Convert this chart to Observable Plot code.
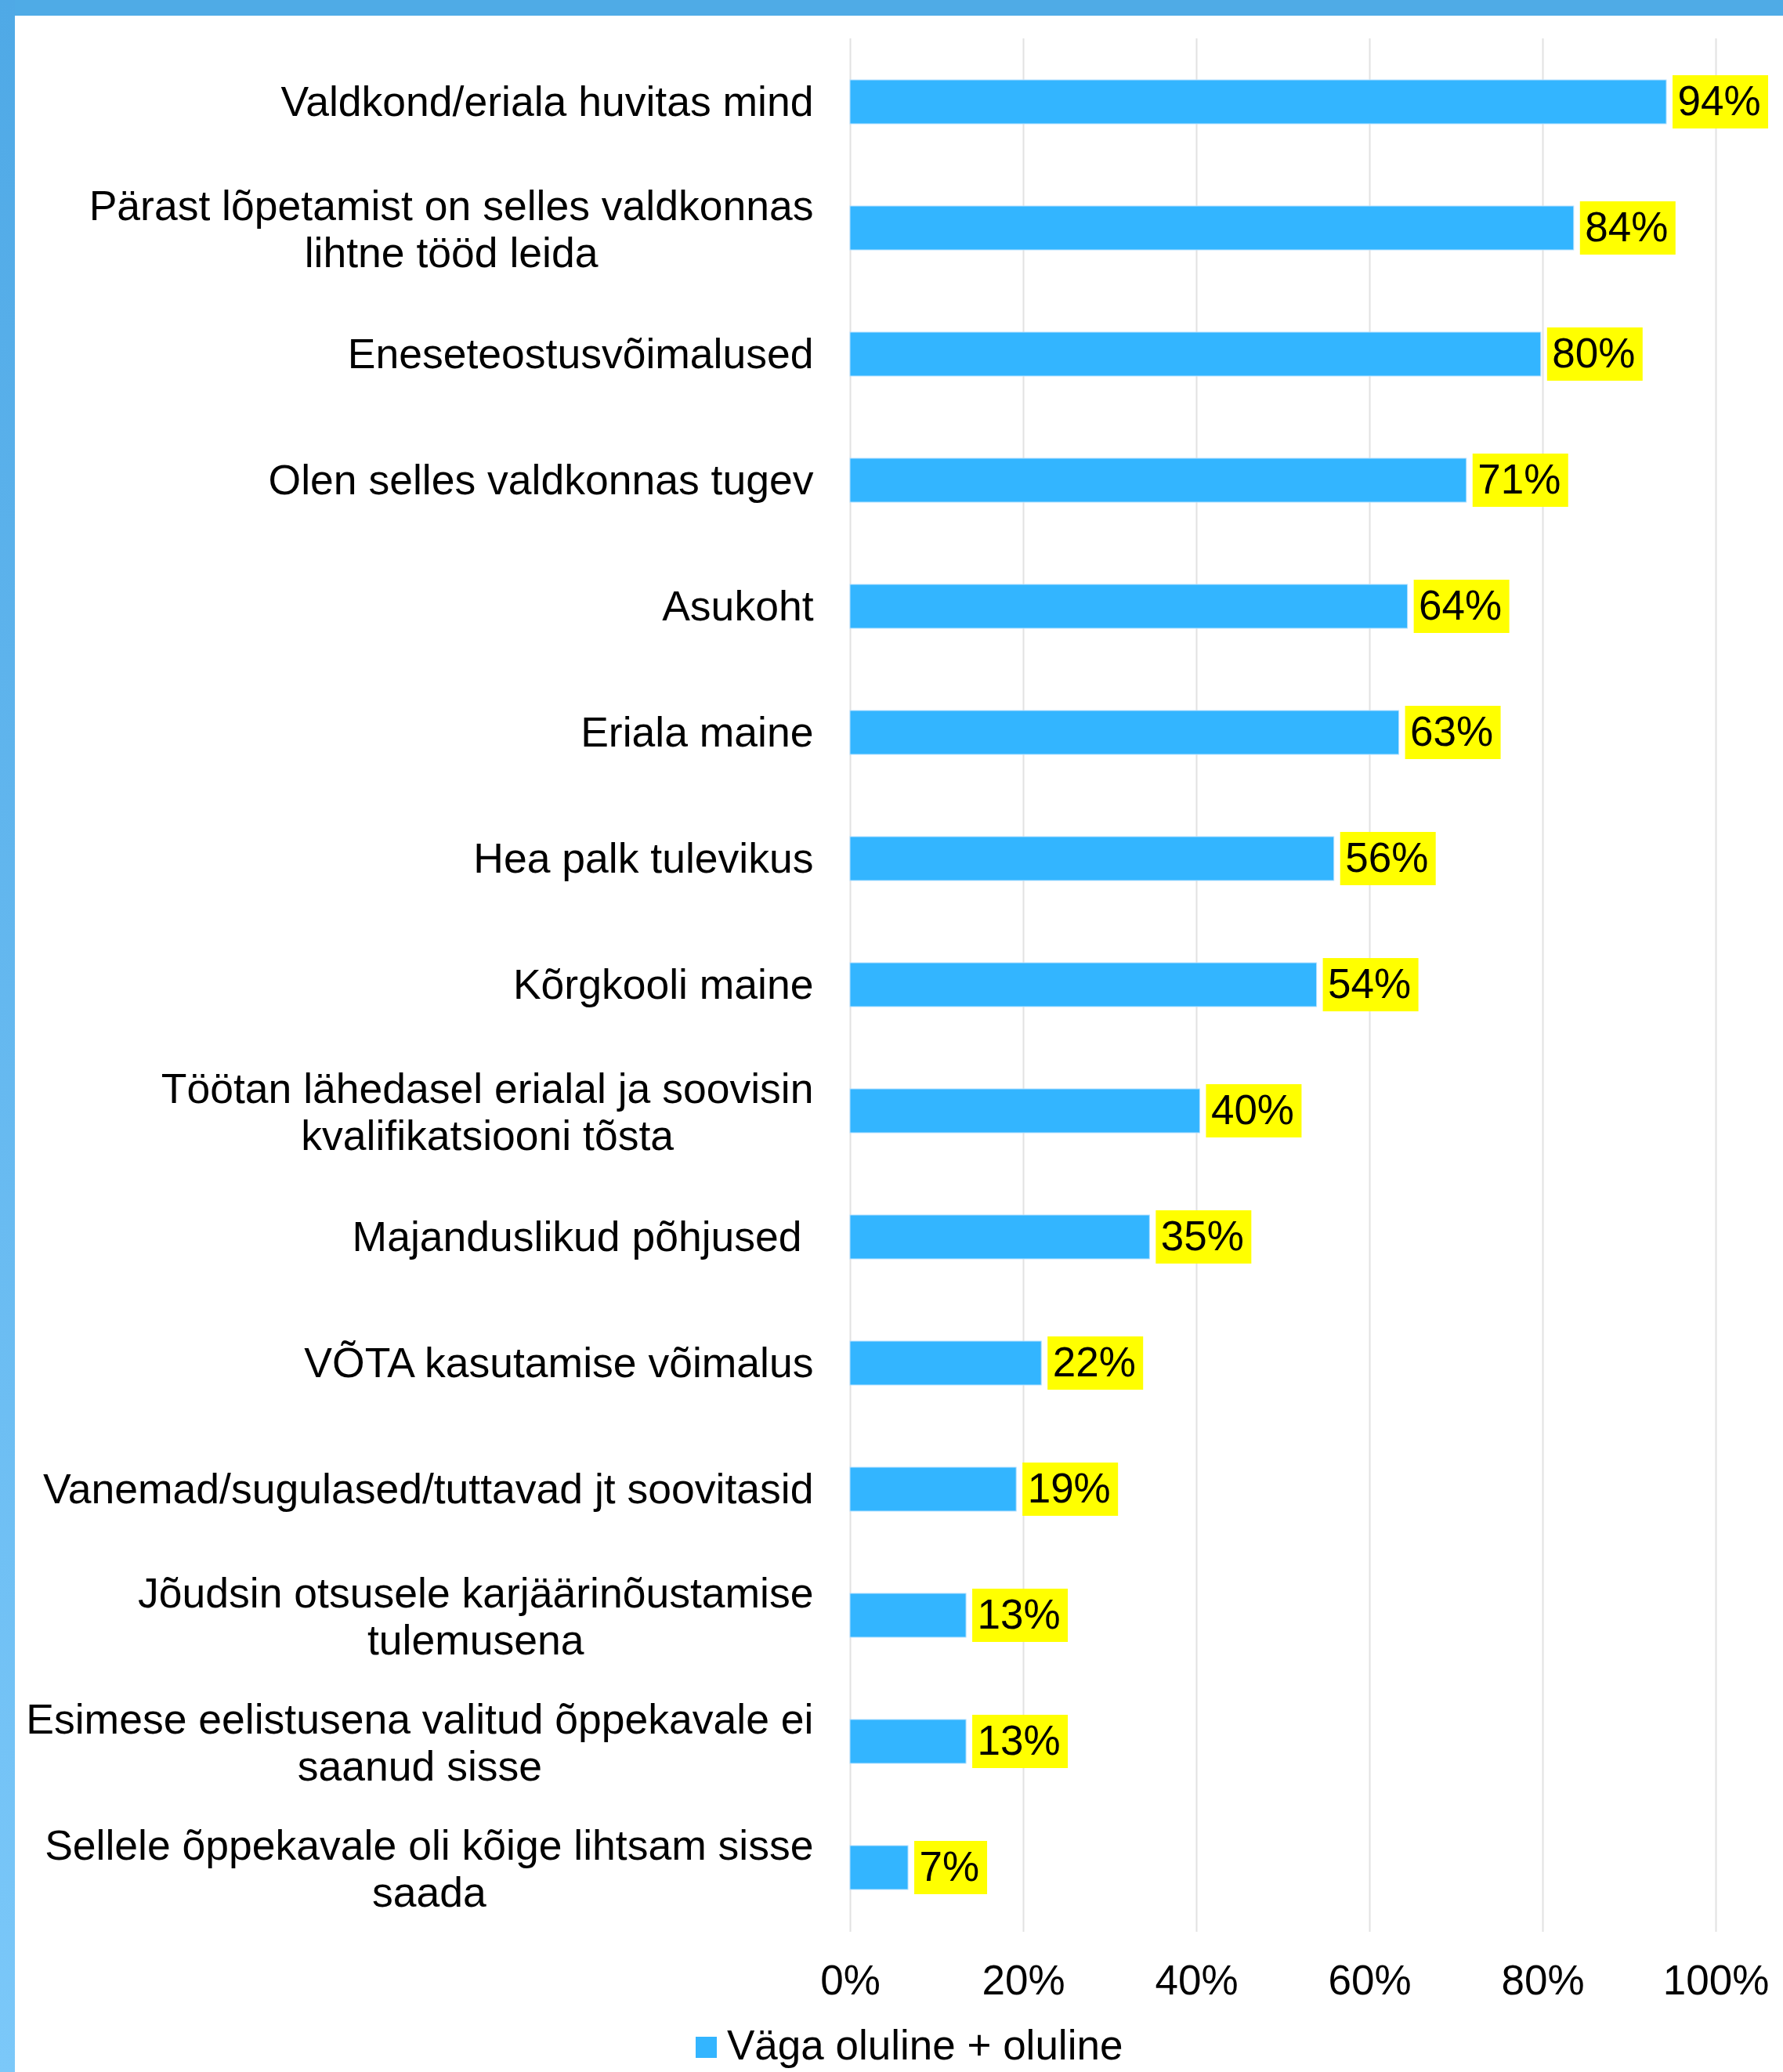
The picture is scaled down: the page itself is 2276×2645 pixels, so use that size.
<!DOCTYPE html>
<html>
<head>
<meta charset="utf-8">
<script src="https://cdn.jsdelivr.net/npm/d3@7"></script>
<script src="https://cdn.jsdelivr.net/npm/@observablehq/plot@0.6"></script>
<style>
  html, body { margin: 0; padding: 0; background: #fff; overflow: hidden; }
  #page { position: relative; width: 2276px; height: 2645px; background: #fff;
          font-family: "Liberation Sans", Arial, sans-serif; }
  #topbar { position: absolute; left: 0; top: 0; width: 2276px; height: 20px; background: #4fabe6; z-index: 3; }
  #leftbar { position: absolute; left: 0; top: 0; width: 19px; height: 2645px;
             background: linear-gradient(#4fa9e6, #7bc8f9); z-index: 3; }
  #chart { position: absolute; left: 0; top: 0; }
  #chart text { white-space: pre; }
  #legend { position: absolute; left: 888px; top: 2584px; height: 53px; width: 700px;
            font-size: 53px; line-height: 53px; color: #000; white-space: nowrap; }
  #legend .sw { position: absolute; left: 0; top: 16px; width: 27px; height: 27px; background: #33b5ff; }
  #legend .lb { position: absolute; left: 40px; top: 0; }
</style>
</head>
<body>
<div id="page">
  <div id="chart"></div>
  <div id="legend"><span class="sw"></span><span class="lb"></span></div>
  <div id="topbar"></div>
  <div id="leftbar"></div>
</div>
<script>
// ---- data ----
const categories = [
  "Valdkond/eriala huvitas mind",
  "Pärast lõpetamist on selles valdkonnas\nlihtne tööd leida",
  "Eneseteostusvõimalused",
  "Olen selles valdkonnas tugev",
  "Asukoht",
  "Eriala maine",
  "Hea palk tulevikus",
  "Kõrgkooli maine",
  "Töötan lähedasel erialal ja soovisin\nkvalifikatsiooni tõsta",
  "Majanduslikud põhjused ",
  "VÕTA kasutamise võimalus",
  "Vanemad/sugulased/tuttavad jt soovitasid",
  "Jõudsin otsusele karjäärinõustamise\ntulemusena",
  "Esimese eelistusena valitud õppekavale ei\nsaanud sisse",
  "Sellele õppekavale oli kõige lihtsam sisse\nsaada"
];
const values = [94.3, 83.6, 79.8, 71.2, 64.4, 63.4, 55.9, 53.9, 40.4, 34.6, 22.1, 19.2, 13.4, 13.4, 6.7];
const xTicks = [0, 20, 40, 60, 80, 100];
const seriesName = "Väga oluline + oluline";

// ---- styling ----
const FONT_SIZE = 53;
const LABEL_FONT_SIZE = 53.5;
const FONT_FAMILY = "'Liberation Sans', Arial, sans-serif";
const BAR_COLOR = "#33b5ff";

const rows = categories.map((c, i) => ({
  category: c,
  value: values[i],
  label: Math.round(values[i]) + "%"
}));

const ctx = document.createElement("canvas").getContext("2d");
const tw = (s, size = FONT_SIZE) => { ctx.font = `${size}px "Liberation Sans"`; return ctx.measureText(s).width; };

// yellow label boxes, grouped by label text width
const widthGroups = d3.group(rows, (d) => Math.round(tw(d.label)));
const boxMarks = Array.from(widthGroups, ([w, data]) =>
  Plot.barX(data, {
    x1: "value", x2: "value", y: "category", fill: "#ffff00",
    insetLeft: 8, insetRight: -(8 + w + 16), insetTop: -6, insetBottom: -6
  })
);

const singleLine = rows.filter((d) => !d.category.includes("\n"));
const multiLine = rows.filter((d) => d.category.includes("\n"));

const labelMarks = [
  Plot.text(singleLine, {
    frameAnchor: "left", y: "category", text: "category",
    textAnchor: "end", dx: -47, fill: "#000", fontSize: LABEL_FONT_SIZE
  }),
  ...multiLine.map((d) =>
    Plot.text([d], {
      frameAnchor: "left", y: "category", text: "category",
      textAnchor: "middle", lineHeight: 1.12, fill: "#000", fontSize: LABEL_FONT_SIZE,
      dx: -47 - d3.max(d.category.split("\n"), (s) => tw(s, LABEL_FONT_SIZE)) / 2
    })
  )
];

const chart = Plot.plot({
  width: 2276,
  height: 2570,
  marginTop: 49,
  marginBottom: 104,
  marginLeft: 1085,
  marginRight: 86,
  style: { fontFamily: FONT_FAMILY, fontSize: FONT_SIZE + "px", color: "#000", background: "transparent", overflow: "visible" },
  x: { domain: [0, 100] },
  y: { type: "band", domain: categories, paddingInner: 0.65, paddingOuter: 0.325, axis: null },
  marks: [
    Plot.gridX(xTicks, { stroke: "#e2e2e2", strokeOpacity: 1, strokeWidth: 2 }),
    Plot.barX(rows, { x: "value", y: "category", fill: BAR_COLOR, stroke: "#b3e0ff", strokeWidth: 1 }),
    ...boxMarks,
    Plot.text(rows, { x: "value", y: "category", text: "label", textAnchor: "start", dx: 14, fill: "#000" }),
    ...labelMarks,
    Plot.axisX({ ticks: xTicks, tickFormat: (d) => d + "%", tickSize: 0, tickPadding: 42, label: null, fontSize: FONT_SIZE, fill: "#000" })
  ]
});

document.getElementById("chart").appendChild(chart);
document.querySelector("#legend .lb").textContent = seriesName;
</script>
</body>
</html>
